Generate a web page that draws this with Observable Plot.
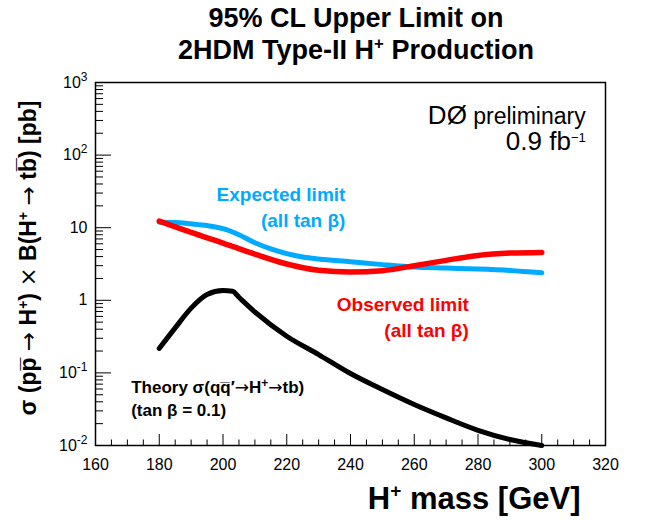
<!DOCTYPE html>
<html><head><meta charset="utf-8">
<script src="https://cdn.jsdelivr.net/npm/d3@7"></script>
<script src="https://cdn.jsdelivr.net/npm/@observablehq/plot@0.6"></script>
<style>
body{margin:0;background:#fff;font-family:"Liberation Sans",Arial,sans-serif;}
#title{width:656px;height:70px;box-sizing:border-box;padding:2px 0 0 56px;text-align:center;font-weight:bold;font-size:27px;line-height:32px;color:#000;white-space:nowrap}
#title sup{font-size:0.62em;vertical-align:0.6em;line-height:0}
</style></head><body>
<div id="title"><span id="t1"></span><br><span id="t2"></span></div>
<div id="chart"></div>
<script>
// ---- data ----
const expectedMass = [180, 185, 190, 195, 200, 205, 210, 215, 220, 225, 230, 240, 250, 260, 270, 280, 290, 300];
const expectedLimit = [11.9, 11.8, 11.3, 10.7, 9.7, 8.0, 6.2, 5.1, 4.4, 3.95, 3.7, 3.4, 3.1, 2.87, 2.78, 2.7, 2.58, 2.4];
const observedMass = [180, 190, 200, 210, 220, 230, 240, 250, 260, 270, 280, 290, 300];
const observedLimit = [12.3, 8.6, 6.15, 4.33, 3.16, 2.59, 2.45, 2.56, 3.0, 3.55, 4.15, 4.47, 4.57];
const theoryMass = [180, 185, 190, 195, 200, 203, 205, 210, 220, 230, 240, 250, 260, 270, 280, 290, 300];
const theoryXsec = [0.217, 0.417, 0.78, 1.2, 1.36, 1.33, 1.1, 0.69, 0.32, 0.179, 0.098, 0.059, 0.0367, 0.024, 0.0162, 0.0121, 0.01];

const xMajorTicks = [160, 180, 200, 220, 240, 260, 280, 300, 320];
const xTickLabels = ["160", "180", "200", "220", "240", "260", "280", "300", "320"];
const yMajorTicks = [0.01, 0.1, 1, 10, 100, 1000];
const yTickBase = ["10", "10", "1", "10", "10", "10"];
const yTickExp = ["-2", "-1", "", "", "2", "3"];

const titleLine1 = "95% CL Upper Limit on";
const titleLine2 = ["2HDM Type-II H", "+", " Production"];
const xLabel = ["H", "+", " mass [GeV]"];
const yLabel = ["\u03C3 (pp\u0305 ", "\u2192", " H", "+", ") ", "\u00D7", " B(H", "+", " ", "\u2192", " tb\u0305) [pb]"];

const expectedNote = ["Expected limit", "(all tan \u03B2)"];
const expectedNoteMass = [238.4, 238.4];
const expectedNoteXsec = [23.0, 10.1];
const observedNote = ["Observed limit", "(all tan \u03B2)"];
const observedNoteMass = [277.1, 277.1];
const observedNoteXsec = [0.706, 0.31];
const theoryNote = ["Theory \u03C3(qq\u0305\u2032\u2192H+\u2192tb)", "(tan \u03B2 = 0.1)"];
const theoryNoteMass = [171.2, 171.2];
const theoryNoteXsec = [0.0526, 0.0254];
const d0Note = ["D\u00D8 preliminary", "0.9 fb-1"];
const d0NoteMass = [313.8, 313.8];
const d0NoteXsec = [272, 116];

// ---- derived tables ----
const expectedData = expectedMass.map((m, i) => ({m, v: expectedLimit[i]}));
const observedData = observedMass.map((m, i) => ({m, v: observedLimit[i]}));
const theoryData = theoryMass.map((m, i) => ({m, v: theoryXsec[i]}));
const yMinor = [];
for (let e = -2; e < 3; e++) for (let k = 2; k <= 9; k++) yMinor.push(k * Math.pow(10, e));
const xMinor = d3.range(160, 321, 5).filter(d => !xMajorTicks.includes(d));
const note = (txt, ms, vs) => txt.map((t, i) => ({t, m: ms[i], v: vs[i]}));

// title
document.getElementById("t1").textContent = titleLine1;
const t2 = document.getElementById("t2");
t2.append(titleLine2[0]);
const sup = document.createElement("sup"); sup.textContent = titleLine2[1]; t2.append(sup);
t2.append(titleLine2[2]);

const W = 656, H = 450;
const mL = 95, mR = 51, mT = 12, mB = 75;
const plotW = W - mL - mR, plotH = H - mT - mB;
const blue = "#00aaff", red = "#ff0000";
const FONT = "'Liberation Sans', Arial, sans-serif";

const chart = Plot.plot({
  width: W, height: H,
  marginLeft: mL, marginRight: mR, marginTop: mT, marginBottom: mB,
  style: {fontFamily: FONT, background: "white", color: "black"},
  x: {domain: [160, 320], axis: null},
  y: {type: "log", domain: [0.01, 1000], axis: null},
  marks: [
    Plot.axisX({ticks: xMajorTicks, tickSize: 0, tickPadding: 13, fontSize: 16, label: null,
      tickFormat: d => xTickLabels[xMajorTicks.indexOf(d)]}),
    Plot.axisY({ticks: yMajorTicks, tickSize: 0, tickPadding: 8, fontSize: 16, label: null,
      tickFormat: d => "ytick" + yMajorTicks.indexOf(d)}),
    Plot.tickY(yMajorTicks, {y: d => d, insetRight: plotW - 16, stroke: "black", strokeWidth: 1}),
    Plot.tickY(yMinor, {y: d => d, insetRight: plotW - 8, stroke: "black", strokeWidth: 1}),
    Plot.tickX(xMajorTicks, {x: d => d, insetTop: plotH - 11, stroke: "black", strokeWidth: 1}),
    Plot.tickX(xMinor, {x: d => d, insetTop: plotH - 5.5, stroke: "black", strokeWidth: 1}),
    Plot.line(expectedData, {x: "m", y: "v", stroke: blue, strokeWidth: 5, curve: "monotone-x"}),
    Plot.line(observedData, {x: "m", y: "v", stroke: red, strokeWidth: 5.5, curve: "monotone-x"}),
    Plot.line(theoryData, {x: "m", y: "v", stroke: "black", strokeWidth: 5, curve: "monotone-x"}),
    Plot.text(note(expectedNote, expectedNoteMass, expectedNoteXsec), {x: "m", y: "v", text: "t",
      textAnchor: "end", lineAnchor: "bottom", fill: blue, fontWeight: "bold", fontSize: 19}),
    Plot.text(note(observedNote, observedNoteMass, observedNoteXsec), {x: "m", y: "v", text: "t",
      textAnchor: "end", lineAnchor: "bottom", fill: red, fontWeight: "bold", fontSize: 19}),
    Plot.text(note(theoryNote, theoryNoteMass, theoryNoteXsec), {x: "m", y: "v", text: "t",
      textAnchor: "start", lineAnchor: "bottom", fill: "black", fontWeight: "bold", fontSize: 17}),
    Plot.text(note(d0Note, d0NoteMass, d0NoteXsec), {x: "m", y: "v", text: "t",
      textAnchor: "end", lineAnchor: "bottom", fill: "black", fontSize: 24}),
    Plot.text([xLabel.join("")], {text: d => d, frameAnchor: "bottom-right", textAnchor: "end", lineAnchor: "bottom",
      dx: -25, dy: 63, fontSize: 31, fontWeight: "bold", fill: "black"}),
    Plot.text([yLabel.join("")], {text: d => d, frameAnchor: "left", textAnchor: "middle", lineAnchor: "bottom",
      rotate: -90, dx: -60, dy: -6, fontSize: 23, fontWeight: "bold", fill: "black"}),
    Plot.frame({stroke: "black", strokeWidth: 1.5})
  ]
});
document.getElementById("chart").appendChild(chart);

// ---- rich text (superscripts, symbol glyphs) ----
const NS = "http://www.w3.org/2000/svg";
function rich(el, parts) {
  el.textContent = "";
  let shift = 0;
  for (const p of parts) {
    const ts = document.createElementNS(NS, "tspan");
    ts.textContent = p.t;
    const target = p.up || 0;
    if (target !== shift) { ts.setAttribute("dy", -(target - shift)); shift = target; }
    if (p.size) ts.setAttribute("font-size", p.size);
    if (p.family) ts.setAttribute("font-family", p.family);
    if (p.weight) ts.setAttribute("font-weight", p.weight);
    el.appendChild(ts);
  }
}
const SYM = "'DejaVu Sans', sans-serif";
d3.select(chart).selectAll("text").each(function() {
  const s = this.textContent;
  if (s.startsWith("ytick")) {
    const i = +s.slice(5);
    const parts = [{t: yTickBase[i]}];
    if (yTickExp[i]) parts.push({t: yTickExp[i], size: 12, up: 7});
    rich(this, parts);
  } else if (s === xLabel.join("")) {
    rich(this, [{t: xLabel[0]}, {t: xLabel[1], size: 19, up: 12}, {t: xLabel[2]}]);
  } else if (s === yLabel.join("")) {
    rich(this, yLabel.map(t => t === "+" ? {t, size: 14, up: 8}
      : (t === "\u2192" || t === "\u00D7") ? {t, family: SYM, weight: "normal"} : {t}));
  } else if (s === theoryNote[0]) {
    rich(this, [{t: "Theory \u03C3(qq\u0305\u2032"}, {t: "\u2192", family: SYM, weight: "normal"}, {t: "H"},
      {t: "+", size: 12, up: 6}, {t: "\u2192", family: SYM, weight: "normal"}, {t: "tb)"}]);
  } else if (s === d0Note[0]) {
    rich(this, [{t: "D\u00D8", size: 26}, {t: " preliminary", size: 23}]);
  } else if (s === d0Note[1]) {
    rich(this, [{t: "0.9 fb", size: 26}, {t: "\u22121", size: 13, up: 8}]);
  }
});
</script>
</body></html>
